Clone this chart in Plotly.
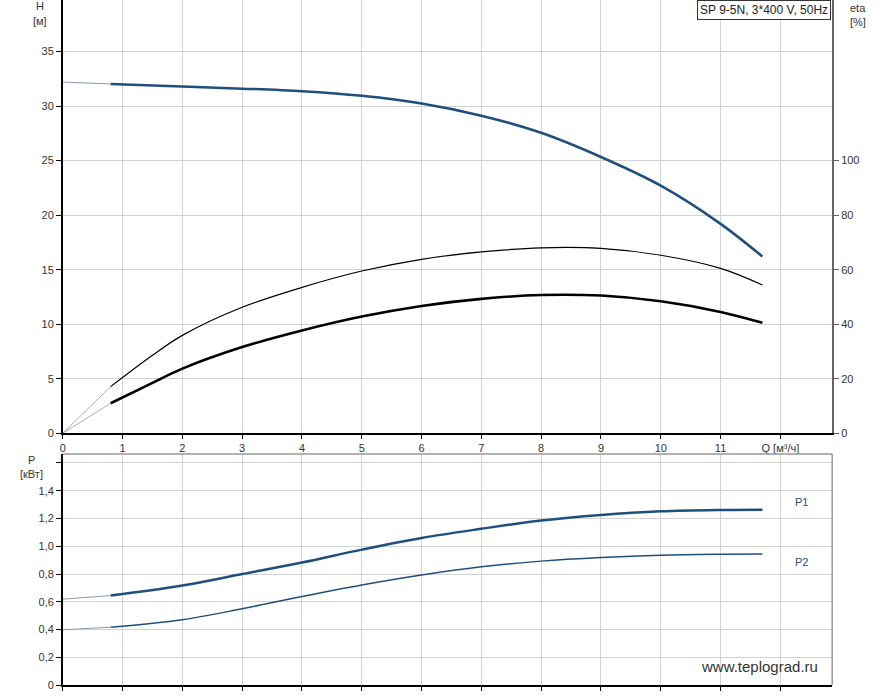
import plotly.graph_objects as go

# ---- data ----
q_h = [0.8, 2, 3, 4, 5, 6, 7, 8, 9, 10, 11, 11.7]
h = [32.03, 31.79, 31.6, 31.36, 30.94, 30.24, 29.12, 27.55, 25.33, 22.7, 19.2, 16.2]
h_ext_q = [0, 0.8]
h_ext = [32.2, 32.03]

q_eta = [0.8, 1.5, 2, 3, 4, 5, 6, 7, 8, 9, 10, 11, 11.7]
eta_pump = [17.1, 28.6, 35.9, 46.2, 53.5, 59.5, 63.8, 66.5, 68.0, 67.8, 65.3, 60.5, 54.4]
eta_total = [11.0, 18.5, 23.7, 31.6, 37.7, 42.8, 46.7, 49.3, 50.7, 50.5, 48.4, 44.5, 40.5]
eta_ext_q = [0, 0.8]
eta_pump_ext = [0, 17.1]
eta_total_ext = [0, 11.0]

q_p = [0.8, 2, 3, 4, 5, 6, 7, 8, 9, 10, 11, 11.7]
p1 = [0.645, 0.717, 0.80, 0.883, 0.976, 1.06, 1.126, 1.186, 1.226, 1.252, 1.262, 1.264]
p2 = [0.417, 0.471, 0.55, 0.638, 0.721, 0.793, 0.852, 0.893, 0.919, 0.936, 0.943, 0.945]
p_ext_q = [0, 0.8]
p1_ext = [0.619, 0.645]
p2_ext = [0.398, 0.417]

x_ticks = list(range(0, 13))
x_ticktext = [str(i) for i in range(0, 12)] + ["Q [м³/ч]"]
h_ticks = [0, 5, 10, 15, 20, 25, 30, 35]
eta_ticks = [0, 20, 40, 60, 80, 100]
p_ticks = [0, 0.2, 0.4, 0.6, 0.8, 1.0, 1.2, 1.4, 1.6]
p_ticktext = ["0", "0,2", "0,4", "0,6", "0,8", "1,0", "1,2", "1,4", ""]

title_text = "SP 9-5N, 3*400 V, 50Hz"

# ---- figure ----
W, H = 887, 700
BLUE = "#1f4f7d"
GRID = "#d3d3d3"
FAM = "Liberation Sans, Arial, sans-serif"
FONT = dict(family=FAM, size=11, color="#333333")

def px_x(p):
    return p / W

def px_y(p):
    return 1 - p / H

fig = go.Figure()

# H curve
fig.add_trace(go.Scatter(x=h_ext_q, y=h_ext, mode="lines", line=dict(color="#8a9bb0", width=1),
                         xaxis="x", yaxis="y", hoverinfo="skip"))
fig.add_trace(go.Scatter(x=q_h, y=h, mode="lines", line=dict(color=BLUE, width=2.5, shape="spline"),
                         xaxis="x", yaxis="y"))
# eta curves
fig.add_trace(go.Scatter(x=eta_ext_q, y=eta_pump_ext, mode="lines", line=dict(color="#999999", width=0.8),
                         xaxis="x", yaxis="y2", hoverinfo="skip"))
fig.add_trace(go.Scatter(x=eta_ext_q, y=eta_total_ext, mode="lines", line=dict(color="#999999", width=0.8),
                         xaxis="x", yaxis="y2", hoverinfo="skip"))
fig.add_trace(go.Scatter(x=q_eta, y=eta_pump, mode="lines", line=dict(color="black", width=1.2, shape="spline"),
                         xaxis="x", yaxis="y2"))
fig.add_trace(go.Scatter(x=q_eta, y=eta_total, mode="lines", line=dict(color="black", width=2.6, shape="spline"),
                         xaxis="x", yaxis="y2"))
# power curves
fig.add_trace(go.Scatter(x=p_ext_q, y=p1_ext, mode="lines", line=dict(color="#8a9bb0", width=1),
                         xaxis="x2", yaxis="y3", hoverinfo="skip"))
fig.add_trace(go.Scatter(x=p_ext_q, y=p2_ext, mode="lines", line=dict(color="#8a9bb0", width=1),
                         xaxis="x2", yaxis="y3", hoverinfo="skip"))
fig.add_trace(go.Scatter(x=q_p, y=p1, mode="lines", line=dict(color=BLUE, width=2.5, shape="spline"),
                         xaxis="x2", yaxis="y3"))
fig.add_trace(go.Scatter(x=q_p, y=p2, mode="lines", line=dict(color=BLUE, width=1.5, shape="spline"),
                         xaxis="x2", yaxis="y3"))

xdom = [px_x(60), px_x(832)]
xmax = (832 - 60) / 60.0
top_dom = [px_y(437), 1.0]
bot_dom = [px_y(691), px_y(458)]
hmax = 437 / 11.0
etamax = hmax * 4
pmax = (691 - 458) / 140.0

common_x = dict(range=[0, xmax], tickvals=x_ticks, showgrid=True, gridcolor=GRID, gridwidth=1,
                zeroline=False, tickfont=FONT, ticks="outside", ticklen=4, tickcolor="black")

fig.update_layout(
    width=W, height=H,
    margin=dict(l=0, r=0, t=0, b=0),
    paper_bgcolor="white", plot_bgcolor="white",
    showlegend=False,
    font=FONT,
    xaxis=dict(domain=xdom, anchor="y", ticktext=x_ticktext, showline=True, linecolor="black",
               linewidth=1.5, **common_x),
    yaxis=dict(domain=top_dom, anchor="x", range=[0, hmax], tickvals=h_ticks, showgrid=True,
               gridcolor=GRID, zeroline=False, showline=True, linecolor="black", linewidth=1.5,
               ticks="outside", ticklen=5, tickcolor="black", tickfont=FONT),
    yaxis2=dict(overlaying="y", side="right", anchor="x", range=[0, etamax], tickvals=eta_ticks,
                showgrid=False, zeroline=False, showline=True, linecolor="#666666", linewidth=1.5,
                ticks="outside", ticklen=5, tickcolor="#666666", tickfont=FONT),
    xaxis2=dict(domain=xdom, anchor="y3", showticklabels=False, showline=True, linecolor="black",
                linewidth=1.5, **common_x),
    yaxis3=dict(domain=bot_dom, anchor="x2", range=[0, pmax], tickvals=p_ticks, ticktext=p_ticktext,
                showgrid=True, gridcolor=GRID, zeroline=False, showline=True, linecolor="black",
                linewidth=1.5, ticks="outside", ticklen=5, tickcolor="black", tickfont=FONT),
)

# bottom panel grey border (top & right)
fig.add_shape(type="line", xref="paper", yref="paper", x0=px_x(60), x1=px_x(832), y0=px_y(458), y1=px_y(458),
              line=dict(color="#999999", width=1.5))
fig.add_shape(type="line", xref="paper", yref="paper", x0=px_x(832), x1=px_x(832), y0=px_y(458), y1=px_y(691),
              line=dict(color="#999999", width=1.5))

# title box
fig.add_annotation(xref="paper", yref="paper", x=px_x(831), y=1.0, xanchor="right", yanchor="top",
                   text=title_text, showarrow=False, font=dict(family=FAM, size=12, color="#222"),
                   bordercolor="#333", borderwidth=1, borderpad=2, bgcolor="white")

def label(text, x, y, anchor="center", color="#333333", size=11):
    fig.add_annotation(xref="paper", yref="paper", x=px_x(x), y=px_y(y), text=text, showarrow=False,
                       xanchor=anchor, yanchor="middle",
                       font=dict(family=FAM, size=size, color=color))

label("H", 37, 6)
label("[м]", 37, 21)
label("eta", 858, 8)
label("[%]", 858, 22)
label("P", 29, 464)
label("[кВт]", 29, 478)
label("P1", 801, 506, color=BLUE)
label("P2", 801, 567, color=BLUE)
label("www.teplograd.ru", 759, 672, color="#333333", size=15)

post = ("document.documentElement.style.margin='0';document.body.style.margin='0';"
        "document.documentElement.style.overflow='hidden';document.body.style.overflow='hidden';"
        "var d=document.getElementById('{plot_id}');d.style.position='fixed';d.style.left='0px';d.style.top='0px';")

fig.write_html("out.html", config={"displayModeBar": False}, post_script=post)
